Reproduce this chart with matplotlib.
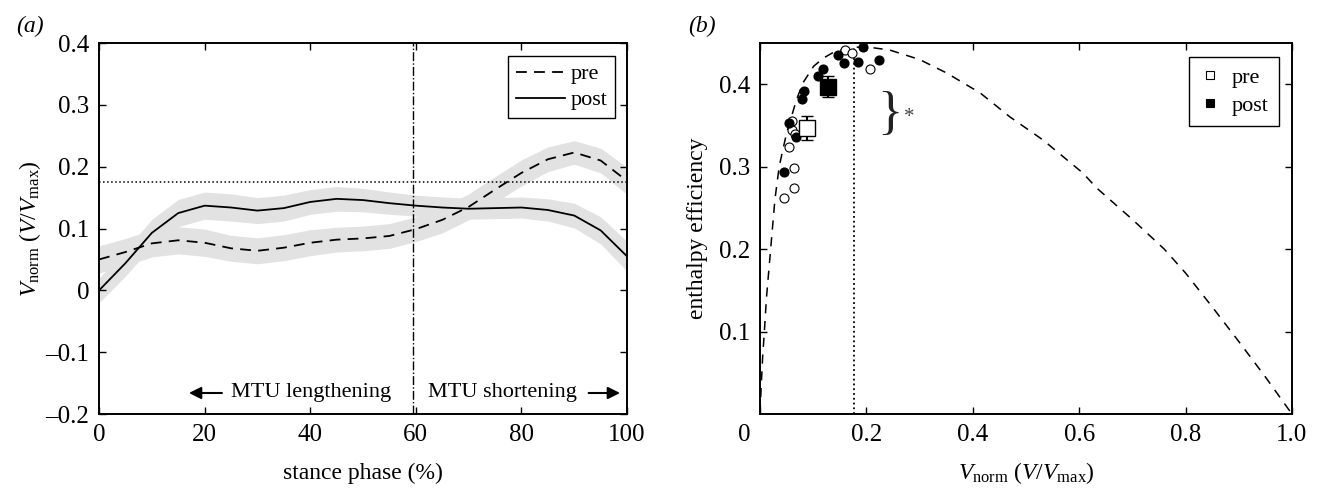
import matplotlib
matplotlib.use('Agg')
import matplotlib.pyplot as plt
import matplotlib.transforms as mtransforms

plt.rcParams['font.family'] = ['Liberation Serif', 'DejaVu Serif']
plt.rcParams['mathtext.fontset'] = 'custom'
plt.rcParams['mathtext.rm'] = 'Liberation Serif'
plt.rcParams['mathtext.it'] = 'Liberation Serif:italic'
plt.rcParams['font.size'] = 17

# (a) stance phase curves
stance = [0, 5, 10, 15, 20, 25, 30, 35, 40, 45, 50, 55, 60, 65, 70, 75, 80, 85, 90, 95, 100]
v_pre = [0.050, 0.062, 0.076, 0.081, 0.077, 0.068, 0.064, 0.069, 0.077, 0.082, 0.084,
         0.088, 0.099, 0.114, 0.135, 0.163, 0.190, 0.212, 0.223, 0.210, 0.177]
v_post = [0.000, 0.044, 0.093, 0.125, 0.137, 0.134, 0.129, 0.133, 0.143, 0.148, 0.146,
          0.141, 0.137, 0.134, 0.132, 0.133, 0.134, 0.130, 0.121, 0.097, 0.055]
sd_pre = [0.022, 0.022, 0.022, 0.022, 0.022, 0.021, 0.021, 0.021, 0.021, 0.020, 0.020,
          0.020, 0.020, 0.021, 0.021, 0.021, 0.021, 0.020, 0.019, 0.020, 0.022]
sd_post = [0.020, 0.021, 0.022, 0.022, 0.022, 0.022, 0.021, 0.021, 0.020, 0.020, 0.019,
           0.018, 0.017, 0.017, 0.017, 0.017, 0.017, 0.018, 0.020, 0.022, 0.024]
v_opt = 0.176
phase_split = 59.5

# (b) efficiency curve and subjects
curve_v = [0.0, 0.002, 0.005, 0.008, 0.012, 0.020, 0.028, 0.036, 0.050, 0.069, 0.081,
           0.101, 0.120, 0.136, 0.160, 0.183, 0.210, 0.244, 0.300, 0.351, 0.414, 0.470,
           0.532, 0.607, 0.633, 0.700, 0.760, 0.800, 0.850, 0.900, 0.950, 1.0]
curve_eff = [0.0, 0.030, 0.070, 0.098, 0.140, 0.200, 0.260, 0.300, 0.341, 0.382, 0.402,
             0.422, 0.432, 0.438, 0.443, 0.445, 0.4445, 0.4415, 0.430, 0.4136, 0.3894,
             0.3603, 0.3324, 0.2923, 0.2741, 0.236, 0.200, 0.171, 0.130, 0.088, 0.045, 0.0]
pre_v = [0.160, 0.172, 0.207, 0.061, 0.061, 0.065, 0.055, 0.063, 0.063, 0.046]
pre_eff = [0.442, 0.438, 0.418, 0.355, 0.345, 0.340, 0.324, 0.299, 0.274, 0.262]
post_v = [0.193, 0.146, 0.157, 0.185, 0.224, 0.118, 0.109, 0.083, 0.079, 0.055, 0.068, 0.046]
post_eff = [0.4455, 0.435, 0.426, 0.427, 0.429, 0.419, 0.410, 0.392, 0.382, 0.353, 0.336, 0.294]
mean_pre = (0.088, 0.347)
mean_post = (0.127, 0.397)
err_pre = (0.012, 0.015)
err_post = (0.012, 0.013)

fig = plt.figure(figsize=(13.19, 4.93), dpi=100)
ax1 = fig.add_axes([0.0751, 0.1602, 0.4003, 0.7525])
ax2 = fig.add_axes([0.5762, 0.1602, 0.4033, 0.7525])

band = '#e2e2e2'
lo = [m - s for m, s in zip(v_pre, sd_pre)]
hi = [m + s for m, s in zip(v_pre, sd_pre)]
ax1.fill_between(stance, lo, hi, color=band, lw=0, zorder=1)
lo = [m - s for m, s in zip(v_post, sd_post)]
hi = [m + s for m, s in zip(v_post, sd_post)]
ax1.fill_between(stance, lo, hi, color=band, lw=0, zorder=1)
ax1.plot(stance, v_pre, 'k--', lw=1.3, dashes=(6, 4), label='pre', zorder=3)
ax1.plot(stance, v_post, 'k-', lw=1.3, label='post', zorder=3)
ax1.axhline(v_opt, color='k', ls=':', lw=1.1, zorder=2)
ax1.axvline(phase_split, color='k', ls='-.', lw=1.0, zorder=2)

ax1.set_xlim(0, 100)
ax1.set_ylim(-0.2, 0.4)
ax1.set_xticks([0, 20, 40, 60, 80, 100])
ax1.set_yticks([-0.2, -0.1, 0, 0.1, 0.2, 0.3, 0.4])
ax1.set_yticklabels(['\u20130.2', '\u20130.1', '0', '0.1', '0.2', '0.3', '0.4'])
ax1.set_xlabel('stance phase (%)', labelpad=12)
ax1.set_ylabel(r'$V_{\mathrm{norm}}\ (V/V_{\mathrm{max}})$', labelpad=2)

ax1.annotate('', xy=(16.5, -0.166), xytext=(23.8, -0.166),
             arrowprops=dict(arrowstyle='-|>', color='k', lw=1.5, mutation_scale=18))
ax1.text(25, -0.166, 'MTU lengthening', ha='left', va='center', fontsize=16)
ax1.text(62.3, -0.166, 'MTU shortening', ha='left', va='center', fontsize=16)
ax1.annotate('', xy=(99.2, -0.166), xytext=(92.2, -0.166),
             arrowprops=dict(arrowstyle='-|>', color='k', lw=1.5, mutation_scale=18))

leg = ax1.legend(loc='upper right', bbox_to_anchor=(0.977, 0.965), borderaxespad=0,
                 fancybox=False, edgecolor='k', handlelength=2.2, handletextpad=0.25,
                 borderpad=0.35, labelspacing=0.25, framealpha=1, fontsize=16)
leg.get_frame().set_linewidth(1.0)

# (b)
ax2.plot(curve_v, curve_eff, 'k--', lw=1.1, dashes=(6, 5), zorder=2)
ax2.plot([v_opt, v_opt], [0, 0.445], 'k:', lw=1.3, zorder=2)
ax2.plot(pre_v, pre_eff, 'o', ms=6.5, mfc='white', mec='k', mew=0.8, ls='none', zorder=4)
ax2.plot(post_v, post_eff, 'o', ms=6.5, mfc='k', mec='k', mew=0.8, ls='none', zorder=4)
ax2.errorbar(mean_pre[0], mean_pre[1], xerr=err_pre[0], yerr=err_pre[1], fmt='s', ms=12,
             mfc='white', mec='k', mew=1.0, ecolor='k', elinewidth=1.5, capsize=4,
             capthick=1.5, zorder=5)
ax2.errorbar(mean_post[0], mean_post[1], xerr=err_post[0], yerr=err_post[1], fmt='s', ms=12,
             mfc='k', mec='k', mew=1.0, ecolor='k', elinewidth=1.5, capsize=4,
             capthick=1.5, zorder=5)
ax2.plot([], [], 's', ms=6, mfc='white', mec='k', mew=0.8, ls='none', label='pre')
ax2.plot([], [], 's', ms=6, mfc='k', mec='k', mew=0.8, ls='none', label='post')

ax2.text(0.244, 0.363, '}', fontsize=38, ha='center', va='center', color='#222222')
ax2.text(0.280, 0.360, '*', fontsize=15, ha='center', va='center', color='#444444')

ax2.set_xlim(0, 1.0)
ax2.set_ylim(0, 0.45)
ax2.set_xticks([0, 0.2, 0.4, 0.6, 0.8, 1.0])
ax2.set_xticklabels(['0', '0.2', '0.4', '0.6', '0.8', '1.0'])
ax2.set_yticks([0.1, 0.2, 0.3, 0.4])
ax2.set_xlabel(r'$V_{\mathrm{norm}}\ (V/V_{\mathrm{max}})$', labelpad=10)
ax2.set_ylabel('enthalpy efficiency', labelpad=8)

leg2 = ax2.legend(loc='upper right', bbox_to_anchor=(0.9756, 0.962), borderaxespad=0,
                  fancybox=False, edgecolor='k', handlelength=1.0, handletextpad=0.5,
                  borderpad=0.45, labelspacing=0.35, framealpha=1, fontsize=16)
leg2.get_frame().set_linewidth(1.0)

for ax in (ax1, ax2):
    ax.tick_params(direction='in', top=True, right=True, length=5, width=1.0, pad=7,
                   labelsize=18)
    for sp in ax.spines.values():
        sp.set_linewidth(1.4)

# the "0" under panel (b) sits left of the axis corner
zero_lbl = ax2.get_xticklabels()[0]
zero_lbl.set_transform(zero_lbl.get_transform() +
                       mtransforms.ScaledTranslation(-16 / 100, 0, fig.dpi_scale_trans))

fig.text(0.012, 0.935, '(a)', fontstyle='italic', fontsize=17)
fig.text(0.522, 0.935, '(b)', fontstyle='italic', fontsize=17)

fig.savefig('out.png', dpi=100)
